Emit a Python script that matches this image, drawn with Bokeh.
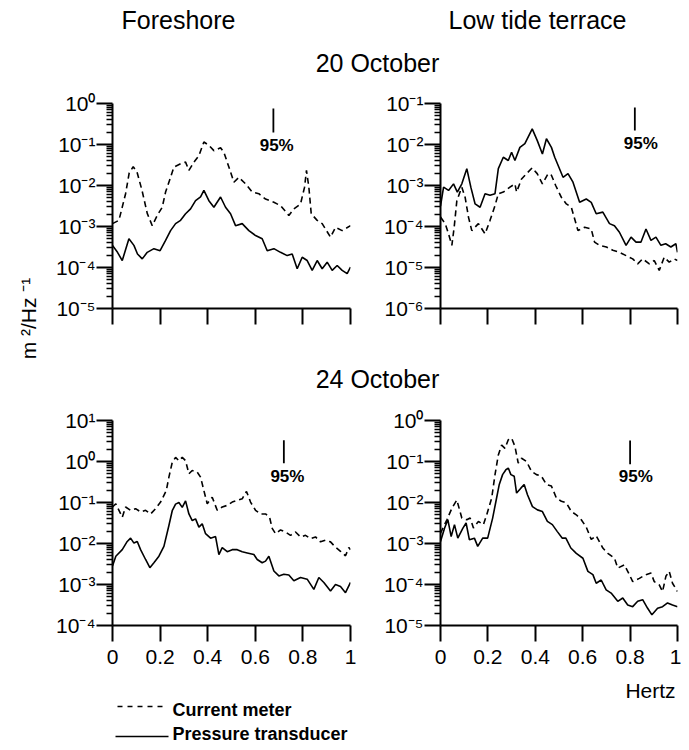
import math
from bokeh.plotting import figure
from bokeh.models import Range1d, FixedTicker, CustomJSTickFormatter
from bokeh.layouts import row, column
from bokeh.core.properties import value
from bokeh.embed import file_html
from bokeh.resources import INLINE

FONT = "Liberation Sans"

# ---------------- data (frequency in Hz, log10 of spectral density m^2/Hz) ----------------
# Foreshore, 20 October
tl_cm_f = [0.0, 0.027, 0.055, 0.07, 0.087, 0.103, 0.124, 0.146, 0.167, 0.188, 0.209, 0.223, 0.244, 0.258, 0.286, 0.307, 0.321, 0.342, 0.363, 0.384, 0.405, 0.426, 0.454, 0.468, 0.489, 0.51, 0.531, 0.559, 0.587, 0.615, 0.643, 0.678, 0.706, 0.741, 0.762, 0.79, 0.807, 0.815, 0.825, 0.835, 0.86, 0.881, 0.916, 0.937, 0.965, 1.0]
tl_cm_s = [-2.93, -2.85, -2.2, -1.7, -1.54, -1.67, -2.12, -2.68, -2.98, -2.73, -2.53, -2.16, -1.8, -1.55, -1.47, -1.43, -1.63, -1.43, -1.27, -0.94, -1.02, -1.15, -1.08, -1.19, -1.55, -1.92, -1.8, -1.96, -2.16, -2.2, -2.33, -2.41, -2.49, -2.73, -2.57, -2.45, -2.04, -1.63, -2.04, -2.69, -2.85, -2.93, -3.26, -3.02, -3.1, -2.98]
tl_pt_f = [0.0, 0.021, 0.041, 0.069, 0.09, 0.105, 0.125, 0.146, 0.174, 0.2, 0.223, 0.244, 0.265, 0.286, 0.307, 0.328, 0.349, 0.37, 0.384, 0.405, 0.426, 0.454, 0.475, 0.496, 0.517, 0.545, 0.573, 0.601, 0.629, 0.65, 0.678, 0.706, 0.734, 0.755, 0.776, 0.797, 0.818, 0.839, 0.86, 0.881, 0.902, 0.923, 0.944, 0.965, 0.986, 1.0]
tl_pt_s = [-3.46, -3.63, -3.83, -3.3, -3.46, -3.67, -3.79, -3.63, -3.54, -3.59, -3.34, -3.1, -2.93, -2.85, -2.69, -2.57, -2.37, -2.28, -2.12, -2.37, -2.53, -2.28, -2.53, -2.69, -2.98, -2.93, -3.1, -3.22, -3.3, -3.59, -3.54, -3.63, -3.71, -3.67, -4.03, -3.75, -3.83, -4.07, -3.83, -4.03, -3.87, -4.07, -3.95, -4.07, -4.15, -3.99]

# Low tide terrace, 20 October
tr_cm_f = [0.0, 0.02, 0.034, 0.048, 0.058, 0.069, 0.09, 0.104, 0.118, 0.132, 0.16, 0.188, 0.209, 0.23, 0.244, 0.265, 0.293, 0.314, 0.321, 0.342, 0.363, 0.387, 0.408, 0.43, 0.454, 0.468, 0.486, 0.51, 0.531, 0.552, 0.58, 0.608, 0.636, 0.65, 0.671, 0.7, 0.727, 0.755, 0.783, 0.811, 0.832, 0.853, 0.881, 0.902, 0.923, 0.944, 0.965, 0.986, 1.0]
tr_cm_s = [-3.77, -3.93, -4.18, -4.46, -4.0, -3.37, -3.04, -3.29, -3.77, -4.1, -3.93, -4.18, -3.85, -3.49, -3.2, -3.16, -3.04, -2.96, -3.16, -2.84, -2.71, -2.57, -2.71, -2.96, -2.71, -2.75, -3.0, -3.29, -3.45, -3.53, -4.1, -4.02, -4.06, -4.38, -4.46, -4.5, -4.58, -4.63, -4.71, -4.79, -4.91, -4.79, -4.91, -4.83, -5.07, -4.75, -4.87, -4.79, -4.83]
tr_pt_f = [0.0, 0.013, 0.034, 0.055, 0.071, 0.09, 0.111, 0.128, 0.146, 0.167, 0.188, 0.209, 0.23, 0.244, 0.265, 0.286, 0.3, 0.314, 0.335, 0.356, 0.387, 0.408, 0.43, 0.447, 0.468, 0.482, 0.517, 0.538, 0.559, 0.587, 0.615, 0.636, 0.657, 0.685, 0.713, 0.734, 0.755, 0.783, 0.804, 0.825, 0.846, 0.867, 0.888, 0.909, 0.93, 0.95, 0.972, 0.993, 1.0]
tr_pt_s = [-3.5, -3.04, -3.12, -2.96, -3.16, -2.96, -2.59, -3.04, -3.45, -3.53, -3.2, -3.24, -3.2, -2.59, -2.31, -2.39, -2.19, -2.39, -2.07, -1.98, -1.62, -1.9, -2.23, -1.86, -2.07, -2.31, -2.8, -2.71, -2.92, -3.41, -3.33, -3.41, -3.69, -3.65, -3.93, -3.98, -4.14, -4.46, -4.26, -4.38, -4.38, -4.06, -4.34, -4.26, -4.46, -4.42, -4.5, -4.42, -4.63]

# Foreshore, 24 October
bl_cm_f = [0.0, 0.014, 0.041, 0.055, 0.076, 0.097, 0.118, 0.139, 0.16, 0.181, 0.202, 0.226, 0.237, 0.251, 0.265, 0.279, 0.293, 0.307, 0.321, 0.335, 0.356, 0.37, 0.384, 0.398, 0.419, 0.44, 0.461, 0.482, 0.503, 0.524, 0.545, 0.563, 0.58, 0.601, 0.622, 0.643, 0.66, 0.671, 0.685, 0.706, 0.727, 0.748, 0.769, 0.79, 0.811, 0.832, 0.853, 0.874, 0.895, 0.916, 0.937, 0.958, 0.979, 0.993, 1.0]
bl_cm_s = [-1.11, -1.03, -1.36, -1.11, -1.19, -1.15, -1.23, -1.19, -1.28, -1.15, -0.99, -0.71, -0.38, -0.02, 0.1, 0.02, 0.1, 0.02, -0.3, -0.22, -0.26, -0.38, -0.71, -1.03, -0.87, -1.19, -1.11, -1.07, -0.99, -0.95, -0.91, -0.73, -0.99, -1.19, -1.28, -1.28, -1.36, -1.63, -1.76, -1.67, -1.72, -1.8, -1.72, -1.84, -1.8, -1.88, -1.84, -1.96, -1.92, -1.96, -2.09, -2.19, -2.3, -2.1, -2.15]
bl_pt_f = [0.0, 0.014, 0.041, 0.062, 0.076, 0.09, 0.104, 0.118, 0.139, 0.157, 0.174, 0.195, 0.216, 0.237, 0.251, 0.265, 0.279, 0.293, 0.307, 0.321, 0.335, 0.349, 0.363, 0.377, 0.391, 0.412, 0.433, 0.447, 0.461, 0.482, 0.503, 0.524, 0.545, 0.566, 0.594, 0.608, 0.629, 0.643, 0.657, 0.678, 0.699, 0.72, 0.741, 0.762, 0.79, 0.818, 0.846, 0.867, 0.888, 0.916, 0.937, 0.958, 0.979, 1.0]
bl_pt_s = [-2.55, -2.31, -2.15, -1.95, -1.87, -1.99, -1.95, -2.15, -2.39, -2.59, -2.47, -2.31, -2.07, -1.56, -1.2, -1.04, -1.0, -1.12, -0.96, -1.28, -1.44, -1.4, -1.6, -1.52, -1.76, -1.87, -1.83, -2.27, -2.1, -2.2, -2.15, -2.15, -2.2, -2.23, -2.27, -2.39, -2.47, -2.43, -2.31, -2.67, -2.79, -2.75, -2.77, -2.91, -2.83, -2.87, -3.12, -2.83, -2.95, -3.16, -3.0, -3.05, -3.2, -2.95]

# Low tide terrace, 24 October
br_cm_f = [0.0, 0.027, 0.048, 0.069, 0.09, 0.111, 0.125, 0.139, 0.16, 0.181, 0.195, 0.216, 0.23, 0.244, 0.258, 0.272, 0.286, 0.3, 0.314, 0.328, 0.342, 0.363, 0.384, 0.405, 0.426, 0.447, 0.468, 0.489, 0.51, 0.531, 0.552, 0.573, 0.594, 0.615, 0.636, 0.657, 0.685, 0.706, 0.734, 0.748, 0.776, 0.797, 0.811, 0.839, 0.867, 0.888, 0.902, 0.923, 0.937, 0.951, 0.965, 0.979, 1.0]
br_cm_s = [-2.75, -2.42, -2.14, -1.94, -2.38, -2.42, -2.38, -2.62, -2.46, -2.54, -2.3, -1.89, -1.32, -0.84, -0.6, -0.68, -0.47, -0.43, -0.63, -1.04, -0.92, -1.0, -1.24, -1.32, -1.36, -1.56, -1.6, -1.89, -1.97, -2.01, -2.22, -2.3, -2.42, -2.6, -2.9, -2.81, -3.11, -3.24, -3.36, -3.6, -3.52, -3.76, -3.93, -3.85, -3.76, -3.72, -3.93, -4.01, -4.17, -3.8, -3.68, -3.97, -4.17]
br_pt_f = [0.0, 0.017, 0.031, 0.045, 0.059, 0.073, 0.094, 0.108, 0.122, 0.143, 0.157, 0.178, 0.199, 0.22, 0.234, 0.248, 0.262, 0.276, 0.286, 0.297, 0.311, 0.321, 0.339, 0.353, 0.367, 0.388, 0.409, 0.43, 0.451, 0.472, 0.493, 0.514, 0.529, 0.55, 0.573, 0.601, 0.622, 0.643, 0.657, 0.678, 0.699, 0.72, 0.748, 0.769, 0.79, 0.811, 0.832, 0.853, 0.874, 0.892, 0.916, 0.937, 0.958, 0.979, 1.0]
br_pt_s = [-2.95, -2.63, -2.42, -2.83, -2.54, -2.87, -2.63, -2.5, -2.91, -2.87, -3.07, -2.87, -2.87, -2.38, -1.97, -1.56, -1.32, -1.2, -1.16, -1.32, -1.36, -1.77, -1.65, -1.56, -1.81, -2.1, -2.18, -2.22, -2.46, -2.54, -2.71, -2.87, -2.87, -3.11, -3.24, -3.36, -3.68, -3.76, -3.97, -3.89, -4.13, -4.21, -4.41, -4.33, -4.5, -4.54, -4.41, -4.37, -4.58, -4.74, -4.58, -4.54, -4.45, -4.5, -4.54]

# y-axis decades (log10) per panel: (low, high)
tl_decades = (-5, 0)
tr_decades = (-6, -1)
bl_decades = (-4, 1)
br_decades = (-5, 0)

# 95% confidence bars: x, log10 top, log10 bottom, label x, label log10 y
tl_ci = (0.676, -0.12, -0.71, 0.69, -1.02)
tr_ci = (0.82, -1.10, -1.66, 0.845, -1.98)
bl_ci = (0.72, 0.52, -0.04, 0.735, -0.36)
br_ci = (0.80, -0.49, -1.07, 0.824, -1.37)

x_ticks = [0, 0.2, 0.4, 0.6, 0.8, 1.0]

# ---------------- helpers ----------------
LOG_FMT = """
const sup = {'-':'⁻','0':'⁰','1':'¹','2':'²','3':'³','4':'⁴','5':'⁵','6':'⁶','7':'⁷','8':'⁸','9':'⁹'};
const e = Math.round(Math.log10(tick));
return '10' + String(e).split('').map(c => sup[c]).join('');
"""
X_FMT = """
if (Math.abs(tick) < 1e-9) return '0';
if (Math.abs(tick - 1) < 1e-9) return '1';
return tick.toFixed(1);
"""


def panel(width, height, decades, bl, br, bt, bb, xlabels, series, ci):
    lo, hi = decades
    p = figure(width=width, height=height, title=None,
               x_range=Range1d(0, 1), y_range=Range1d(10.0 ** lo, 10.0 ** hi),
               y_axis_type="log", output_backend="svg", toolbar_location=None,
               min_border_left=bl, min_border_right=br, min_border_top=bt, min_border_bottom=bb)
    p.xgrid.visible = False
    p.ygrid.visible = False
    p.outline_line_color = None
    p.background_fill_color = "white"
    p.border_fill_color = "white"

    major = [10.0 ** d for d in range(lo, hi + 1)]
    minor = [m * 10.0 ** d for d in range(lo, hi) for m in range(2, 10)]
    ya = p.yaxis[0]
    ya.ticker = FixedTicker(ticks=major, minor_ticks=minor)
    ya.formatter = CustomJSTickFormatter(code=LOG_FMT)
    ya.major_tick_out = 16
    ya.major_tick_in = 0
    ya.minor_tick_out = 6
    ya.minor_tick_in = 0
    ya.axis_line_width = 2
    ya.major_tick_line_width = 2
    ya.minor_tick_line_width = 1.5
    ya.major_label_standoff = 1
    ya.major_label_text_font = FONT
    ya.major_label_text_font_size = "21px"
    ya.major_label_text_color = "black"

    xa = p.xaxis[0]
    xa.ticker = FixedTicker(ticks=x_ticks, minor_ticks=[])
    xa.major_tick_out = 16
    xa.major_tick_in = 0
    xa.minor_tick_out = 0
    xa.minor_tick_in = 0
    xa.axis_line_width = 2
    xa.major_tick_line_width = 2
    xa.major_label_standoff = 8
    xa.major_label_text_font = FONT
    xa.major_label_text_font_size = "21px"
    xa.major_label_text_color = "black"
    if xlabels:
        xa.formatter = CustomJSTickFormatter(code=X_FMT)
    else:
        xa.formatter = CustomJSTickFormatter(code="return '';")

    for f, s, dash in series:
        p.line(f, [10.0 ** v for v in s], line_color="black", line_width=1.6, line_dash=dash)

    cx, ctop, cbot, tx, ty = ci
    p.segment(x0=[cx], y0=[10.0 ** ctop], x1=[cx], y1=[10.0 ** cbot], line_color="black", line_width=1.8)
    p.text(x=[tx], y=[10.0 ** ty], text=["95%"], text_font=value(FONT), text_font_style="bold",
           text_font_size="17px", text_align="center", text_baseline="middle", text_color="black")
    return p


def blank(width, height):
    p = figure(width=width, height=height, title=None, x_range=Range1d(0, width), y_range=Range1d(height, 0),
               output_backend="svg", toolbar_location=None, x_axis_location=None, y_axis_location=None,
               min_border=0, min_border_left=0, min_border_right=0, min_border_top=0, min_border_bottom=0)
    p.xgrid.visible = False
    p.ygrid.visible = False
    p.outline_line_color = None
    p.background_fill_color = "white"
    p.border_fill_color = "white"
    return p


def put_text(p, x, y, txt, size, align="center", bold=False, angle=0.0):
    p.text(x=[x], y=[y], text=[txt], text_font=value(FONT), text_font_size=size,
           text_font_style="bold" if bold else "normal", text_align=align, text_baseline="middle",
           text_color="black", angle=angle)


DASH = "6 4"
LEFT_W = 45

# ---------------- figures ----------------
left = blank(LEFT_W, 742)
put_text(left, 28, 318, "m ²/Hz ⁻¹", "21px", angle=math.pi / 2)

head1 = blank(636, 83)
put_text(head1, 133, 19, "Foreshore", "25px")
put_text(head1, 492, 19, "Low tide terrace", "25px")
put_text(head1, 332, 62, "20 October", "25px")

tl = panel(317, 267, tl_decades, 67, 12, 20, 42, False,
           [(tl_cm_f, tl_cm_s, DASH), (tl_pt_f, tl_pt_s, "solid")], tl_ci)
tr = panel(319, 267, tr_decades, 78, 4, 20, 42, False,
           [(tr_cm_f, tr_cm_s, DASH), (tr_pt_f, tr_pt_s, "solid")], tr_ci)

head2 = blank(636, 45)
put_text(head2, 332, 28, "24 October", "25px")

bl = panel(317, 280, bl_decades, 67, 12, 25, 50, True,
           [(bl_cm_f, bl_cm_s, DASH), (bl_pt_f, bl_pt_s, "solid")], bl_ci)
br = panel(319, 280, br_decades, 78, 4, 25, 50, True,
           [(br_cm_f, br_cm_s, DASH), (br_pt_f, br_pt_s, "solid")], br_ci)

foot = blank(636, 67)
put_text(foot, 605, 15, "Hertz", "21px")
foot.line([72, 122], [31, 31], line_color="black", line_width=1.4, line_dash="5 5")
foot.line([70, 123], [61, 61], line_color="black", line_width=1.4)
put_text(foot, 127, 34, "Current meter", "18px", align="left", bold=True)
put_text(foot, 127, 58, "Pressure transducer", "18px", align="left", bold=True)

layout = row(left, column(head1, row(tl, tr), head2, row(bl, br), foot))

open("out.html", "w").write(file_html(layout, INLINE))
